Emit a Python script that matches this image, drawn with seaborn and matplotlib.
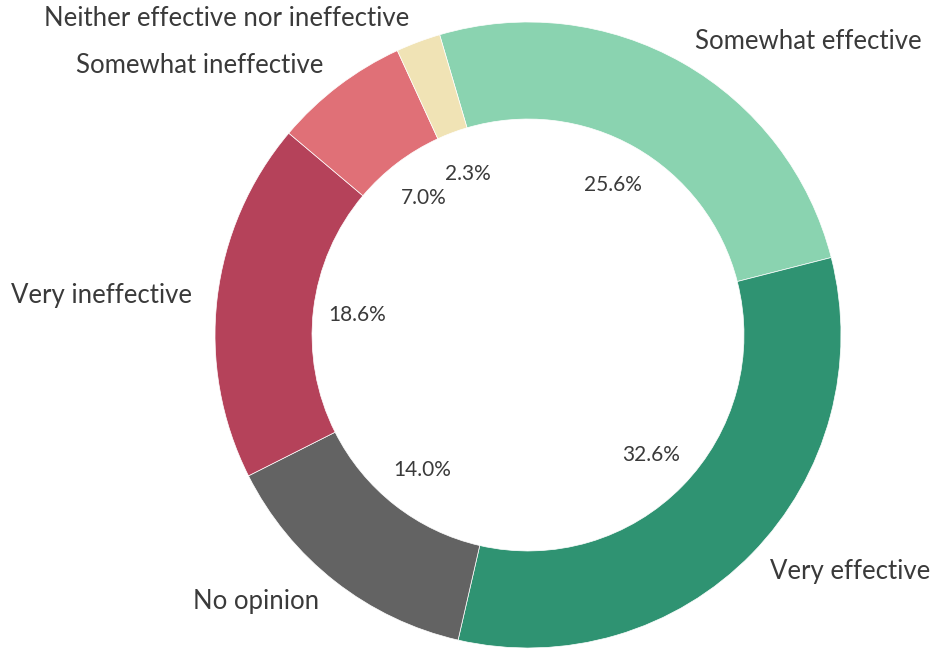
import matplotlib
matplotlib.use('Agg')
import matplotlib.pyplot as plt
import seaborn as sns

# survey answers, clockwise from the top
labels = ['Somewhat effective', 'Very effective', 'No opinion',
          'Very ineffective', 'Somewhat ineffective',
          'Neither effective nor ineffective']
shares = [25.6, 32.6, 14.0, 18.6, 7.0, 2.3]
colors = ['#8ad3b0', '#2f9372', '#636363', '#b5425a', '#e07077', '#f0e3b5']

sns.set_style('white')
plt.rcParams['font.family'] = ['Lato', 'DejaVu Sans']

fig = plt.figure(figsize=(9.3, 6.49), dpi=100)
# square axes centred on the donut (pixel coords of the reference)
cx, cy, r = 528, 335, 313
ax = fig.add_axes([(cx - r) / 930, (649 - cy - r) / 649, 2 * r / 930, 2 * r / 649])

wedges, texts, autotexts = ax.pie(
    shares, labels=labels, colors=colors, startangle=106.4, counterclock=False,
    autopct='%1.1f%%', pctdistance=0.55, labeldistance=1.08,
    wedgeprops=dict(width=0.31, edgecolor='white', linewidth=0.5),
    textprops=dict(color='#3a3a3a', fontsize=18.5))

for t in autotexts:
    t.set_fontsize(15)

ax.set_xlim(-1, 1)
ax.set_ylim(-1, 1)
ax.set_aspect('equal')
ax.axis('off')

fig.savefig('out.png', dpi=100)
